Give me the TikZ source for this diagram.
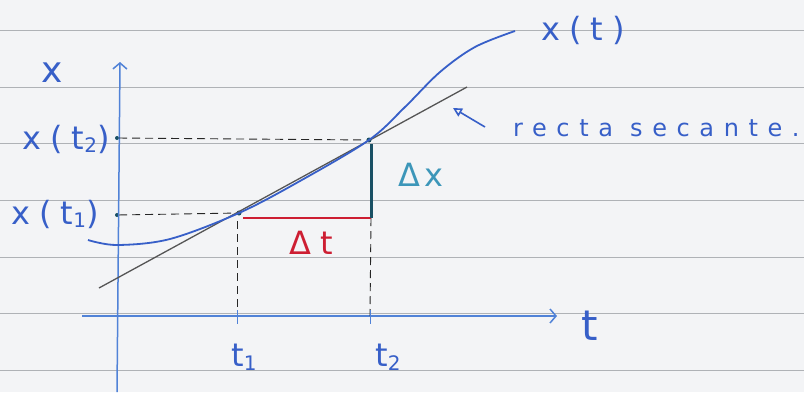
\documentclass[tikz,border=0pt]{standalone}
\usepackage{fontspec}
\setmainfont{DejaVu Sans}
\usetikzlibrary{arrows.meta}
\definecolor{paper}{RGB}{243,244,246}
\definecolor{rule}{RGB}{175,178,182}
\definecolor{ink}{RGB}{55,95,200}
\definecolor{axisblue}{RGB}{80,130,215}
\definecolor{secgray}{RGB}{85,85,85}
\definecolor{redink}{RGB}{205,30,50}
\definecolor{tealink}{RGB}{25,80,100}
\definecolor{dxink}{RGB}{60,150,185}
\newcommand\lowsub[1]{\raisebox{-0.12em}{\fontsize{20}{20}\selectfont\addfontfeature{LetterSpace=0}#1}}
\tikzset{
  lbl/.style={text=ink, font=\fontsize{32}{36}\selectfont\addfontfeature{LetterSpace=28}, inner sep=1pt},
  axisline/.style={draw=axisblue, line width=1.5pt},
  guide/.style={draw=black!85, dash pattern=on 8pt off 5pt, line width=0.9pt},
  pt/.style={circle, fill=tealink, inner sep=0pt, minimum size=5pt}
}
\begin{document}
\begin{tikzpicture}[x=1pt,y=-1pt]
\useasboundingbox (0,0) rectangle (804,392);
\fill[paper] (0,0) rectangle (804,392);
\foreach \yy in {30,87,143,200,257,313,370} \draw[rule, line width=0.8pt] (0,\yy) -- (804,\yy);
% coordinates
\coordinate (yb) at (117,392);
\coordinate (yt) at (120,62);
\coordinate (xl) at (82,316);
\coordinate (xr) at (557,316);
\node[pt] (p1) at (239,213) {};
\node[pt] (p2) at (369,140) {};
\node[circle, fill=tealink, inner sep=0pt, minimum size=4pt] (y1) at (117,215) {};
\node[circle, fill=tealink, inner sep=0pt, minimum size=4pt] (y2) at (117,138) {};
\coordinate (c1) at (371,218);
\coordinate (r1) at (243,218);
\coordinate (q2) at (371,144);
\coordinate (b1) at (237,316);
\coordinate (b2) at (370,316);
\coordinate (s1) at (99,288);
\coordinate (s2) at (467,87);
% axes
\draw[axisline, -{Straight Barb[length=6pt,width=14pt]}] (yb) -- (yt);
\draw[axisline, -{Straight Barb[length=6pt,width=14pt]}] (xl) -- (xr);
% dashed guides
\draw[guide] (y2) -- (p2);
\draw[guide] (y1) -- (p1);
\draw[guide] (237,221) -- (b1);
\draw[guide] (c1) -- (b2);
\draw[axisline, line width=1pt] (237,310) -- (237,324);
\draw[axisline, line width=1pt] (370,310) -- (370,324);
% secant
\draw[secgray, line width=1.3pt] (s1) -- (s2);
% curve
\draw[ink, line width=1.8pt] plot[smooth, tension=0.55] coordinates {(88,240) (117,245) (170,239) (239,213) (300,181) (369,140) (405,107) (440,72) (475,47) (515,31)};
% delta
\draw[redink, line width=2.2pt] (r1) -- (c1);
\draw[tealink, line width=3pt] (q2) -- (c1);
% labels
\node[lbl, font=\fontsize{36}{40}\selectfont] (lx) at (52,73) {x};
\node[lbl, font=\fontsize{42}{46}\selectfont] (lt) at (590,326) {t};
\node[lbl] (lt1) at (244,357) {t\lowsub{1}};
\node[lbl] (lt2) at (388,357) {t\lowsub{2}};
\node[lbl] (lxt2) at (66,139) {x(t\lowsub{2})};
\node[lbl] (lxt1) at (55,214) {x(t\lowsub{1})};
\node[lbl, text=redink] (ldt) at (311,243) {Δt};
\node[lbl, text=dxink, font=\fontsize{32}{36}\selectfont\addfontfeature{LetterSpace=10}] (ldx) at (421,175) {Δx};
\node[lbl] (lxt) at (583,30) {x(t)};
\node[lbl, anchor=west, font=\fontsize{24}{28}\selectfont\addfontfeature{LetterSpace=40}] (lrs) at (512,128) {recta secante.};
\coordinate (ar) at (485,127);
\draw[ink, line width=1.6pt, -{Triangle[open,length=9pt,width=9pt]}] (ar) -- (453,108);
\end{tikzpicture}
\end{document}
